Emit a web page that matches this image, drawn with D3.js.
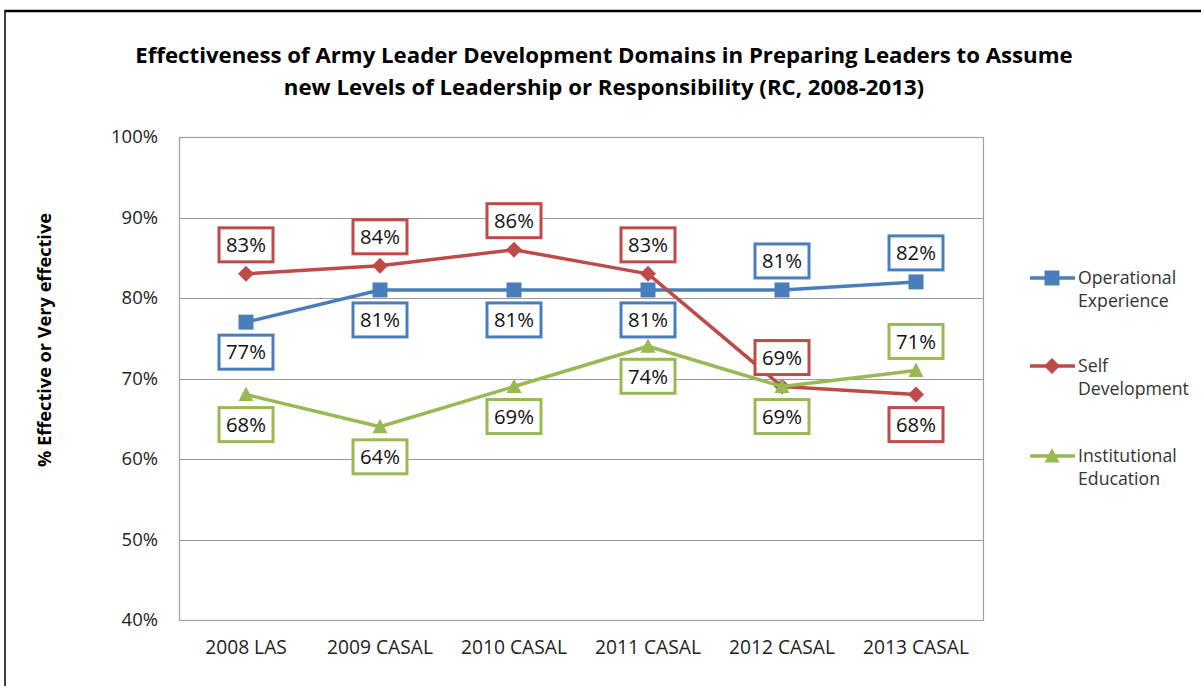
<!DOCTYPE html>
<html><head><meta charset="utf-8">
<script src="https://cdn.jsdelivr.net/npm/d3@7/dist/d3.min.js"></script>
<style>body{margin:0;background:#fff;} svg{display:block;font-family:"Open Sans",Lato,sans-serif;}</style>
</head><body>
<svg id="c" width="1201" height="686"></svg>
<script>
const categories = ["2008 LAS","2009 CASAL","2010 CASAL","2011 CASAL","2012 CASAL","2013 CASAL"];
const operational = [77,81,81,81,81,82];
const selfDev = [83,84,86,83,69,68];
const institutional = [68,64,69,74,69,71];
const opLabelPos = ["below","below","below","below","above","above"];
const sdLabelPos = ["above","above","above","above","above","below"];
const ieLabelPos = ["below","below","below","below","below","above"];
const yTicks = [40,50,60,70,80,90,100];
const titleLines = ["Effectiveness of Army Leader Development Domains in Preparing Leaders to Assume","new Levels of Leadership or Responsibility (RC, 2008-2013)"];
const yTitle = "% Effective or Very effective";

const series = [
  {name:["Operational","Experience"], values:operational, pos:opLabelPos, color:"#4A7EBB", marker:"square"},
  {name:["Self","Development"], values:selfDev, pos:sdLabelPos, color:"#BE4B48", marker:"diamond"},
  {name:["Institutional","Education"], values:institutional, pos:ieLabelPos, color:"#98B954", marker:"triangle"}
];

const svg = d3.select("#c");
svg.append("rect").attr("x",0).attr("y",0).attr("width",1201).attr("height",686).attr("fill","#fff");
svg.append("line").attr("x1",5).attr("x2",1201).attr("y1",11).attr("y2",11).attr("stroke","#000").attr("stroke-width",2.5);
svg.append("line").attr("x1",5).attr("x2",5).attr("y1",10).attr("y2",686).attr("stroke","#000").attr("stroke-width",1.5);

function fitSize(text, weight, base, target){
  const t = svg.append("text").attr("font-size",base).attr("font-weight",weight).text(text);
  const w = t.node().getComputedTextLength(); t.remove();
  return base*target/w;
}
const fsTitle = fitSize(titleLines[0],"bold",20,938);
const fsYTitle = fitSize(yTitle,"bold",16,254);
const fsTick = fitSize("100%","normal",16,47);
const fsX = fitSize("2009 CASAL","normal",16,106);
const fsLab = fitSize("83%","normal",16,40);
const fsLeg = fitSize("Development","normal",16,111);

const L=179, R=983, T=137, B=620;
const x = d3.scaleBand().domain(categories).range([L,R]);
const y = d3.scaleLinear().domain([40,100]).range([B,T]);

svg.append("g").selectAll("line").data(yTicks.slice(1)).join("line")
  .attr("x1",L).attr("x2",R).attr("y1",d=>Math.round(y(d))+0.5).attr("y2",d=>Math.round(y(d))+0.5)
  .attr("stroke","#989898").attr("stroke-width",1);
svg.append("rect").attr("x",L+0.5).attr("y",T+0.5).attr("width",R-L).attr("height",B-T)
  .attr("fill","none").attr("stroke","#A0A0A0").attr("stroke-width",1.2);

const yAxis = svg.append("g").attr("transform",`translate(${L},0)`)
  .call(d3.axisLeft(y).tickValues(yTicks).tickSize(0).tickPadding(21).tickFormat(d=>d+"%"));
yAxis.select(".domain").remove();
yAxis.selectAll("text").attr("font-size",fsTick).attr("fill","#222").attr("font-family","Open Sans");

const xAxis = svg.append("g").attr("transform",`translate(0,${B})`)
  .call(d3.axisBottom(x).tickSize(0).tickPadding(20));
xAxis.select(".domain").remove();
xAxis.selectAll("text").attr("font-size",fsX).attr("fill","#222").attr("font-family","Open Sans");

svg.append("g").selectAll("text").data(titleLines).join("text")
  .attr("x",604).attr("y",(d,i)=>63+i*32).attr("text-anchor","middle")
  .attr("font-size",fsTitle).attr("font-weight","bold").attr("fill","#000").text(d=>d);

svg.append("text").attr("transform","translate(51,340) rotate(-90)").attr("text-anchor","middle")
  .attr("font-size",fsYTitle).attr("font-weight","bold").attr("fill","#000").text(yTitle);

function marker(g, type, color, cx, cy){
  if(type==="square") g.append("rect").attr("x",cx-7.5).attr("y",cy-7.5).attr("width",15).attr("height",15).attr("fill",color);
  else if(type==="diamond") g.append("path").attr("d",`M${cx},${cy-8}L${cx+8},${cy}L${cx},${cy+8}L${cx-8},${cy}Z`).attr("fill",color);
  else g.append("path").attr("d",`M${cx},${cy-8}L${cx+7.5},${cy+6.5}L${cx-7.5},${cy+6.5}Z`).attr("fill",color);
}

const line = d3.line().x((d,i)=>x(categories[i])+x.bandwidth()/2).y(d=>y(d));
series.forEach(s=>{
  const g = svg.append("g");
  g.append("path").attr("d",line(s.values)).attr("fill","none").attr("stroke",s.color).attr("stroke-width",3.5).attr("stroke-linejoin","round");
  s.values.forEach((v,i)=>marker(g,s.marker,s.color,x(categories[i])+x.bandwidth()/2,y(v)));
});
series.forEach(s=>{
  const g = svg.append("g");
  s.values.forEach((v,i)=>{
    const cx = x(categories[i])+x.bandwidth()/2;
    const cy = y(v) + (s.pos[i]==="above" ? -29 : 30);
    g.append("rect").attr("x",cx-27).attr("y",cy-17).attr("width",54).attr("height",34)
      .attr("fill","#fff").attr("stroke",s.color).attr("stroke-width",3);
    g.append("text").attr("x",cx).attr("y",cy).attr("dy","0.36em").attr("text-anchor","middle")
      .attr("font-size",fsLab).attr("fill","#111").text(v+"%");
  });
});

const lg = svg.append("g");
const legY = [289,377,467];
series.forEach((s,i)=>{
  const ly = legY[i];
  lg.append("line").attr("x1",1030).attr("x2",1075).attr("y1",ly-11).attr("y2",ly-11).attr("stroke",s.color).attr("stroke-width",3.5);
  marker(lg,s.marker,s.color,1052,ly-11);
  s.name.forEach((n,j)=>lg.append("text").attr("x",1078).attr("y",ly-11+j*23).attr("dy","0.36em")
    .attr("font-size",fsLeg).attr("fill","#333").text(n));
});
</script>
</body></html>
